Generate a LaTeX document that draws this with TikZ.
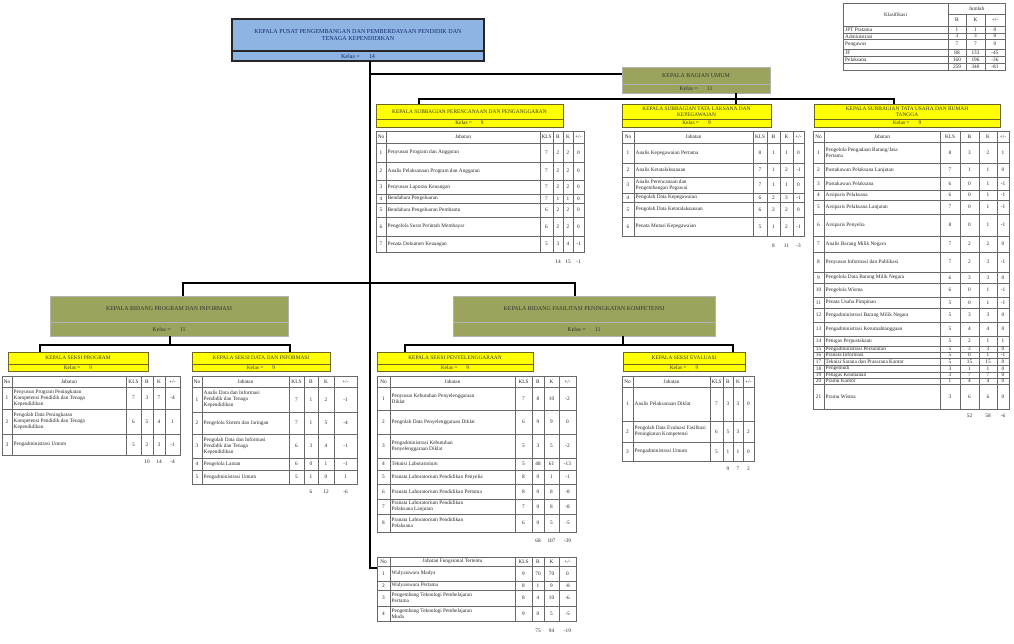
\documentclass[tikz,border=0pt]{standalone}
\usepackage{fontspec}
\setmainfont{Liberation Serif}
\usetikzlibrary{calc}
\definecolor{topblue}{RGB}{141,180,226}
\definecolor{navytxt}{RGB}{20,40,110}
\definecolor{olivebox}{RGB}{155,163,92}
\definecolor{ybox}{RGB}{255,255,0}
\definecolor{gridc}{RGB}{105,105,105}
\newcommand\tf{\fontsize{5.3}{5.9}\selectfont}
\newcommand\boxfont{\fontsize{5.4}{6.2}\selectfont}
\newcommand\gboxfont{\fontsize{5.9}{6.6}\selectfont}
\newcommand\tcols[7]{\def\ca{#1}\def\cb{#2}\def\cc{#3}\def\cd{#4}\def\ce{#5}\def\cf{#6}\def\cg{#7}}
\newcommand\trow[8]{%
  \draw[tbl] (\ca,#1) rectangle (\cg,#2);
  \foreach \xx in {\cb,\cc,\cd,\ce,\cf} {\draw[tbl] (\xx,#1) -- (\xx,#2);}
  \node[tc] at ({(\ca+\cb)/2},{(#1+#2)/2}) {#3};
  \node[tl] at ({\cb+1.5},{(#1+#2)/2}) {#4};
  \node[tc] at ({(\cc+\cd)/2},{(#1+#2)/2}) {#5};
  \node[tc] at ({(\cd+\ce)/2},{(#1+#2)/2}) {#6};
  \node[tc] at ({(\ce+\cf)/2},{(#1+#2)/2}) {#7};
  \node[tc] at ({(\cf+\cg)/2},{(#1+#2)/2}) {#8};
}
\newcommand\thead[3]{\trow{#1}{#2}{No}{}{KLS}{B}{K}{+/-}%
  \node[tc] at ({(\cb+\cc)/2},{(#1+#2)/2}) {#3};}
\newcommand\ttot[4]{%
  \node[tc] at ({(\cd+\ce)/2},#1) {#2};
  \node[tc] at ({(\ce+\cf)/2},#1) {#3};
  \node[tc] at ({(\cf+\cg)/2},#1) {#4};}
% name, style, x1, y1, x2, y2, ydiv, title, kelas
\newcommand\obox[9]{%
  \node[#2, minimum width={#5-#3}, minimum height={#6-#4}, inner sep=0, outer sep=0] (#1) at ({(#3+#5)/2},{(#4+#6)/2}) {};
  \draw[#2, fill=none] (#3,#7) -- (#5,#7);
  \node[#2 txt, align=center] (#1-t) at ({(#3+#5)/2},{(#4+#7)/2}) {#8};
  \node[#2 txt] (#1-k) at ({(#3+#5)/2},{(#7+#6)/2}) {Kelas =\hspace{9pt}#9};
}
\begin{document}
\begin{tikzpicture}[x=1pt,y=-1pt,
  conn/.style={draw=black, line width=1.3},
  bluebox/.style={draw=black!85, line width=1.1, fill=topblue},
  bluebox txt/.style={text=navytxt, font=\fontsize{6.1}{6.9}\selectfont, inner sep=0},
  greenbox/.style={draw=gray!60, line width=0.7, fill=olivebox},
  greenbox txt/.style={text=black!80, font=\gboxfont, inner sep=0},
  yelbox/.style={draw=olive!70!black, line width=0.7, fill=ybox},
  yelbox txt/.style={text=black!80, font=\boxfont, inner sep=0},
  tbl/.style={draw=gridc, line width=0.45},
  tc/.style={font=\tf, inner sep=0, anchor=center, text=black!85},
  tl/.style={font=\tf, inner sep=0, anchor=west, align=left, text=black!85}]
\useasboundingbox (0,0) rectangle (1014,643);
\fill[white] (0,0) rectangle (1014,643);

% ---------- legend table ----------
\draw[tbl] (843,3) rectangle (1005,70);
\draw[tbl] (948,3) -- (948,70);
\draw[tbl] (948,14) -- (1005,14);
\draw[tbl] (966,14) -- (966,70);
\draw[tbl] (985,14) -- (985,70);
\foreach \yy in {26,33,39.5,49,56,63} {\draw[tbl] (843,\yy) -- (1005,\yy);}
\node[tc] (lg-h) at (895.5,14.5) {Klasifikasi};
\node[tc] (lg-j) at (976.5,8.5) {Jumlah};
\node[tc] (lg-b) at (957,20) {B};
\node[tc] (lg-k) at (975.5,20) {K};
\node[tc] (lg-d) at (995,20) {+/-};
\foreach \yy/\lab/\b/\k/\d [count=\i] in {29.5/JPT Pratama/1/1/0, 36.25/Administrasi/3/3/0, 44.25/Pengawas/7/7/0, 52.5/JF/88/133/-45, 59.5/Pelaksana/160/196/-36, 66.5//259/340/-81} {
  \node[tl] (lg-\i) at (845,\yy) {\lab};
  \node[tc] (lg-b\i) at (957,\yy) {\b};
  \node[tc] (lg-k\i) at (975.5,\yy) {\k};
  \node[tc] (lg-d\i) at (995,\yy) {\d};
}

% ---------- org boxes ----------
\obox{top}{bluebox}{232}{19}{484}{61}{51}{KEPALA PUSAT PENGEMBANGAN DAN PEMBERDAYAAN PENDIDIK DAN\\TENAGA KEPENDIDIKAN}{14}
\obox{kbu}{greenbox}{622}{67}{770}{93}{84}{KEPALA BAGIAN UMUM}{11}
\obox{s1}{yelbox}{376}{104}{563}{127}{119}{KEPALA SUBBAGIAN PERENCANAAN DAN PENGANGGARAN}{9}
\obox{s2}{yelbox}{622}{104}{771}{127}{119}{KEPALA SUBBAGIAN TATA LAKSANA DAN\\KEPEGAWAIAN}{9}
\obox{s3}{yelbox}{814}{104}{1000}{127}{119}{KEPALA SUBBAGIAN TATA USAHA DAN RUMAH\\TANGGA}{9}
\obox{gl}{greenbox}{50}{296}{288}{336}{322}{KEPALA BIDANG PROGRAM DAN INFORMASI}{11}
\obox{gr}{greenbox}{453}{296}{715}{336}{322}{KEPALA BIDANG FASILITASI PENINGKATAN KOMPETENSI}{11}
\obox{yl1}{yelbox}{8}{352}{148}{371}{364}{KEPALA SEKSI PROGRAM}{9}
\obox{yl2}{yelbox}{192}{352}{330}{371}{364}{KEPALA SEKSI DATA DAN INFORMASI}{9}
\obox{yc1}{yelbox}{377}{352}{533}{371}{364}{KEPALA SEKSI PENYELENGGARAAN}{9}
\obox{yc2}{yelbox}{623}{352}{745}{371}{364}{KEPALA SEKSI EVALUASI}{9}

% ---------- connectors ----------
\coordinate (sp) at (370,61);
\coordinate (tc2in) at (377,568);
\coordinate (kbuin) at (622,74);
\draw[conn] (sp) |- (tc2in);
\draw[conn] (kbuin -| sp) -- (kbuin);
\coordinate (kbud) at (736,93);
\draw[conn] (kbud) -- (736,104);
\draw[conn] (s1.north -| 419,0) |- (736,99) -| (s3.north -| 894,0);
\coordinate (busb) at (370,283);
\draw[conn] (gl.north -| 183,0) |- (busb) -| (gr.north -| 575,0);
\draw[conn] (gl.south -| 170,0) -- (170,345);
\draw[conn] (yl1.north -| 40,0) |- (170,345) -| (yl2.north -| 290,0);
\draw[conn] (gr.south -| 623,0) -- (623,345);
\draw[conn] (yc1.north -| 405,0) |- (623,345) -| (yc2.north -| 733,0);

% ---------- T1 ----------
\tcols{376}{386}{540}{553}{563}{573}{584}
\thead{131}{143}{Jabatan}
\trow{143}{162}{1}{Penyusun Program dan Anggaran}{7}{2}{2}{0}
\trow{162}{180}{2}{Analis Pelaksanaan Program dan Anggaran}{7}{2}{2}{0}
\trow{180}{194}{3}{Penyusun Laporan Keuangan}{7}{2}{2}{0}
\trow{194}{203}{4}{Bendahara Pengeluaran}{7}{1}{1}{0}
\trow{203}{217}{5}{Bendahara Pengeluaran Pembantu}{6}{2}{2}{0}
\trow{217}{236}{6}{Pengelola Surat Perintah Membayar}{6}{2}{2}{0}
\trow{236}{252}{7}{Penata Dokumen Keuangan}{5}{3}{4}{-1}
\ttot{262}{14}{15}{-1}

% ---------- T2 ----------
\tcols{622}{634}{753}{767}{780}{793}{804}
\thead{131}{143}{Jabatan}
\trow{143}{163}{1}{Analis Kepegawaian Pertama}{8}{1}{1}{0}
\trow{163}{177}{2}{Analis Ketatalaksanaan}{7}{1}{2}{-1}
\trow{177}{193}{3}{Analis Perencanaan dan\\Pengembangan Pegawai}{7}{1}{1}{0}
\trow{193}{202}{4}{Pengolah Data Kepegawaian}{6}{2}{3}{-1}
\trow{202}{217}{5}{Pengolah Data Ketatalaksanaan}{6}{2}{2}{0}
\trow{217}{236}{6}{Penata Mutasi Kepegawaian}{5}{1}{2}{-1}
\ttot{246}{8}{11}{-3}

% ---------- T3 ----------
\tcols{813}{824}{940}{960}{979}{997}{1009}
\thead{131}{142}{Jabatan}
\trow{142}{163}{1}{Pengelola Pengadaan Barang/Jasa\\Pertama}{8}{3}{2}{1}
\trow{163}{177}{2}{Pustakawan Pelaksana Lanjutan}{7}{1}{1}{0}
\trow{177}{190}{3}{Pustakawan Pelaksana}{6}{0}{1}{-1}
\trow{190}{200}{4}{Arsiparis Pelaksana}{6}{0}{1}{-1}
\trow{200}{214}{5}{Arsiparis Pelaksana Lanjutan}{7}{0}{1}{-1}
\trow{214}{236}{6}{Arsiparis Penyelia}{8}{0}{1}{-1}
\trow{236}{252}{7}{Analis Barang Milik Negara}{7}{2}{2}{0}
\trow{252}{272}{8}{Penyusun Informasi dan Publikasi}{7}{2}{3}{-1}
\trow{272}{283}{9}{Pengelola Data Barang Milik Negara}{6}{3}{3}{0}
\trow{283}{297}{10}{Pengelola Wisma}{6}{0}{1}{-1}
\trow{297}{308}{11}{Penata Usaha Pimpinan}{5}{0}{1}{-1}
\trow{308}{322}{12}{Pengadministrasi Barang Milik Negara}{5}{3}{3}{0}
\trow{322}{336}{13}{Pengadministrasi Kerumahtanggaan}{5}{4}{4}{0}
\trow{336}{346}{14}{Petugas Perpustakaan}{5}{2}{1}{1}
\trow{346}{352}{15}{Pengadministrasi Persuratan}{5}{3}{3}{0}
\trow{352}{358}{16}{Pranata Informasi}{5}{0}{1}{-1}
\trow{358}{365}{17}{Teknisi Sarana dan Prasarana Kantor}{5}{15}{15}{0}
\trow{365}{372}{18}{Pengemudi}{3}{1}{1}{0}
\trow{372}{378}{19}{Petugas Keamanan}{3}{7}{7}{0}
\trow{378}{384}{20}{Pramu Kantor}{1}{4}{4}{0}
\trow{384}{409}{21}{Pramu Wisma}{3}{6}{6}{0}
\ttot{416}{52}{58}{-6}

% ---------- TL1 ----------
\tcols{2}{12}{126}{141}{153}{165}{180}
\thead{376}{387}{Jabatan}
\trow{387}{409}{1}{Penyusun Program Peningkatan\\Kompetensi Pendidik dan Tenaga\\Kependidikan}{7}{3}{7}{-4}
\trow{409}{434}{2}{Pengolah Data Peningkatan\\Kompetensi Pendidik dan Tenaga\\Kependidikan}{6}{5}{4}{1}
\trow{434}{455}{3}{Pengadministrasi Umum}{5}{2}{3}{-1}
\ttot{462}{10}{14}{-4}

% ---------- TL2 ----------
\tcols{192}{202}{289}{304}{318}{334}{357}
\thead{376}{387}{Jabatan}
\trow{387}{412}{1}{Analis Data dan Informasi\\Pendidik dan Tenaga\\Kependidikan}{7}{1}{2}{-1}
\trow{412}{434}{2}{Pengelola Sistem dan Jaringan}{7}{1}{5}{-4}
\trow{434}{458}{3}{Pengolah Data dan Informasi\\Pendidik dan Tenaga\\Kependidikan}{6}{3}{4}{-1}
\trow{458}{470}{4}{Pengelola Laman}{6}{0}{1}{-1}
\trow{470}{484}{5}{Pengadministrasi Umum}{5}{1}{0}{1}
\ttot{492}{6}{12}{-6}

% ---------- TC1 ----------
\tcols{377}{390}{515}{532}{544}{559}{576}
\thead{376}{387}{Jabatan}
\trow{387}{410}{1}{Penyusun Kebutuhan Penyelenggaraan\\Diklat}{7}{8}{10}{-2}
\trow{410}{434}{2}{Pengolah Data Penyelenggaraan Diklat}{6}{9}{9}{0}
\trow{434}{458}{3}{Pengadministrasi Kebutuhan\\Penyelenggaraan Diklat}{5}{3}{5}{-2}
\trow{458}{470}{4}{Teknisi Laboratorium}{5}{48}{61}{-13}
\trow{470}{484}{5}{Pranata Laboratorium Pendidikan Penyelia}{8}{0}{1}{-1}
\trow{484}{499}{6}{Pranata Laboratorium Pendidikan Pertama}{8}{0}{8}{-8}
\trow{499}{514}{7}{Pranata Laboratorium Pendidikan\\Pelaksana Lanjutan}{7}{0}{8}{-8}
\trow{514}{532}{8}{Pranata Laboratorium Pendidikan\\Pelaksana}{6}{0}{5}{-5}
\ttot{541}{68}{107}{-39}

% ---------- TR ----------
\tcols{622}{633}{710}{723}{733}{743}{754}
\thead{376}{387}{Jabatan}
\trow{387}{421}{1}{Analis Pelaksanaan Diklat}{7}{3}{3}{0}
\trow{421}{442}{2}{Pengolah Data Evaluasi Fasilitasi\\Peningkatan Kompetensi}{6}{5}{3}{2}
\trow{442}{461}{3}{Pengadministrasi Umum}{5}{1}{1}{0}
\ttot{469}{9}{7}{2}

% ---------- TC2 ----------
\tcols{377}{390}{515}{532}{544}{559}{576}
\thead{557}{566}{Jabatan Fungsional Tertentu}
\trow{566}{581}{1}{Widyaiswara Madya}{9}{70}{70}{0}
\trow{581}{590}{2}{Widyaiswara Pertama}{8}{1}{9}{-8}
\trow{590}{606}{3}{Pengembang Teknologi Pembelajaran\\Pertama}{8}{4}{10}{-6}
\trow{606}{621}{4}{Pengembang Teknologi Pembelajaran\\Muda}{9}{0}{5}{-5}
\ttot{631}{75}{94}{-19}
\end{tikzpicture}
\end{document}
